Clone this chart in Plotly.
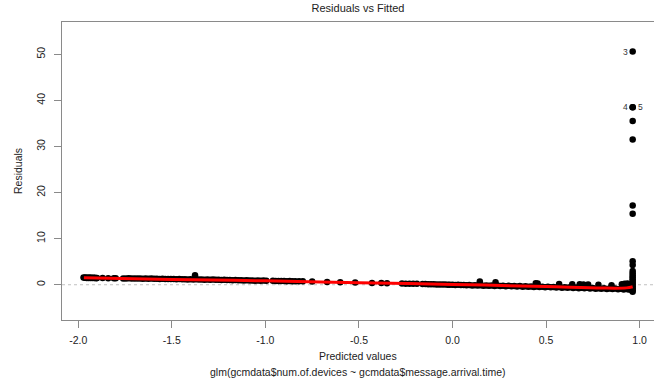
import plotly.graph_objects as go

# Main band of observations (fitted value, residual)
band_fitted = [
    -1.972, -1.965, -1.960, -1.955, -1.950, -1.945, -1.940, -1.935, -1.930, -1.925,
    -1.920, -1.915, -1.910, -1.905, -1.900, -1.870, -1.840, -1.810, -1.800,
    -1.760, -1.745, -1.730, -1.715, -1.700, -1.685, -1.670, -1.655, -1.640, -1.625,
    -1.610, -1.595, -1.580, -1.565, -1.550, -1.535, -1.520, -1.505, -1.490, -1.475,
    -1.460, -1.445, -1.430, -1.415, -1.400, -1.376, -1.385, -1.370, -1.355, -1.340,
    -1.325, -1.310, -1.295, -1.280, -1.265, -1.250, -1.235, -1.220, -1.205, -1.190,
    -1.175, -1.160, -1.145, -1.130, -1.115, -1.100, -1.085, -1.070, -1.055, -1.040,
    -1.025, -1.010, -0.995, -0.960, -0.945, -0.930, -0.915, -0.900, -0.885, -0.870,
    -0.855, -0.840, -0.820, -0.800, -0.750, -0.670, -0.600, -0.520, -0.430, -0.380,
    -0.350, -0.270, -0.250, -0.230, -0.210, -0.190, -0.160, -0.145, -0.130, -0.115,
    -0.100, -0.085, -0.070, -0.055, -0.040, -0.025, -0.015,
    0.000, 0.015, 0.030, 0.045, 0.060, 0.075, 0.090, 0.105, 0.120, 0.135,
    0.146, 0.150, 0.165, 0.180, 0.195, 0.210, 0.225, 0.230, 0.240, 0.255,
    0.270, 0.285, 0.300, 0.315, 0.330, 0.345, 0.360, 0.375, 0.390, 0.405,
    0.420, 0.435, 0.445, 0.455, 0.450, 0.465, 0.480, 0.495, 0.510, 0.525,
    0.540, 0.555, 0.570, 0.570, 0.585, 0.600, 0.615, 0.630, 0.640, 0.645,
    0.660, 0.675, 0.680, 0.690, 0.700, 0.705, 0.720, 0.725, 0.735, 0.750,
    0.765, 0.780, 0.780, 0.795, 0.810, 0.825, 0.840, 0.850, 0.855, 0.870,
    0.885, 0.900, 0.905, 0.915, 0.920, 0.930, 0.935, 0.940, 0.950, 0.955, 0.960,
]
band_resid = [
    1.55, 1.50, 1.58, 1.47, 1.52, 1.45, 1.55, 1.48, 1.50, 1.44,
    1.52, 1.46, 1.49, 1.43, 1.47, 1.45, 1.43, 1.40, 1.42,
    1.38, 1.36, 1.40, 1.35, 1.37, 1.33, 1.36, 1.31, 1.34, 1.30,
    1.33, 1.28, 1.31, 1.27, 1.29, 1.24, 1.27, 1.22, 1.25, 1.20,
    1.23, 1.18, 1.21, 1.16, 1.19, 2.05, 1.14, 1.17, 1.12, 1.15,
    1.10, 1.13, 1.08, 1.11, 1.06, 1.08, 1.03, 1.06, 1.01, 1.04,
    0.99, 1.01, 0.96, 0.99, 0.94, 0.97, 0.92, 0.94, 0.89, 0.92,
    0.87, 0.90, 0.85, 0.84, 0.81, 0.83, 0.79, 0.81, 0.77, 0.79,
    0.75, 0.77, 0.73, 0.74, 0.70, 0.62, 0.55, 0.48, 0.40, 0.36,
    0.34, 0.27, 0.24, 0.23, 0.20, 0.19, 0.16, 0.14, 0.13, 0.10,
    0.10, 0.07, 0.07, 0.04, 0.04, 0.01, 0.01,
    0.02, -0.05, 0.00, -0.08, -0.03, -0.12, -0.06, -0.15, -0.09, -0.18,
    0.70, -0.11, -0.20, -0.14, -0.23, -0.16, -0.26, 0.55, -0.19, -0.29,
    -0.21, -0.32, -0.24, -0.35, -0.27, -0.38, -0.30, -0.41, -0.33, -0.44,
    -0.36, -0.47, 0.32, 0.28, -0.39, -0.50, -0.42, -0.53, -0.45, -0.56,
    -0.48, -0.60, 0.18, -0.51, -0.63, -0.54, -0.66, -0.57, 0.10, -0.70,
    -0.60, -0.74, 0.08, -0.63, 0.05, -0.78, -0.66, 0.06, -0.82, -0.70,
    -0.85, -0.02, -0.74, -0.88, -0.77, -0.92, -0.80, -0.10, -0.95, -0.83,
    -0.98, -0.86, 0.10, -1.02, 0.20, -0.89, 0.25, -1.05, -0.92, -1.10, -0.60,
]

# Vertical stack of observations at the largest fitted value
stack_fitted = [0.963] * 21
stack_resid = [50.6, 38.5, 38.5, 35.5, 31.5, 17.2, 15.4, 5.1, 4.3, 3.0,
               2.5, 2.0, 1.6, 1.2, 0.8, 0.4, 0.0, -0.4, -0.8, -1.2, -1.5]

# Labelled observations
label_ids = ["3", "4", "5"]
label_fitted = [0.963, 0.963, 0.963]
label_resid = [50.6, 38.5, 38.5]
label_side = ["left", "left", "right"]

# Smoother (red line)
smooth_x = [-1.97, -1.5, -1.0, -0.5, 0.0, 0.5, 0.8, 0.93, 0.963]
smooth_y = [1.50, 1.15, 0.85, 0.45, 0.07, -0.40, -0.72, -0.68, -0.45]

x_ticks = [-2.0, -1.5, -1.0, -0.5, 0.0, 0.5, 1.0]
x_tick_text = ["-2.0", "-1.5", "-1.0", "-0.5", "0.0", "0.5", "1.0"]
y_ticks = [0, 10, 20, 30, 40, 50]

FONT = "Liberation Sans, Arial, Helvetica, sans-serif"

fig = go.Figure()

# zero reference line
fig.add_trace(go.Scatter(
    x=[-2.087, 1.077], y=[0, 0], mode="lines",
    line=dict(color="#c0c0c0", width=1, dash="dot"),
    hoverinfo="skip", showlegend=False))

fig.add_trace(go.Scatter(
    x=band_fitted + stack_fitted, y=band_resid + stack_resid, mode="markers",
    marker=dict(color="black", size=6.5, line=dict(width=0)),
    showlegend=False))

fig.add_trace(go.Scatter(
    x=smooth_x, y=smooth_y, mode="lines",
    line=dict(color="#ff0000", width=3, shape="spline"),
    showlegend=False))

for lid, lx, ly, side in zip(label_ids, label_fitted, label_resid, label_side):
    fig.add_annotation(
        x=lx, y=ly, text=lid, showarrow=False,
        xanchor="right" if side == "left" else "left",
        xshift=-3 if side == "left" else 3,
        font=dict(family=FONT, size=8.5, color="#333"))

axis_common = dict(
    showline=True, linecolor="#8a8a8a", linewidth=1, mirror=True,
    ticks="outside", ticklen=7, tickcolor="#8a8a8a", tickwidth=1,
    showgrid=False, zeroline=False, automargin=False,
    tickfont=dict(family=FONT, size=10.5, color="#222"),
)

fig.update_layout(
    width=654, height=386,
    margin=dict(l=62, r=0, t=22, b=66, autoexpand=False),
    paper_bgcolor="white", plot_bgcolor="white",
    title=dict(text="Residuals vs Fitted", x=0.5, xref="paper",
               y=1 - 8 / 386, yref="container", yanchor="middle",
               font=dict(family=FONT, size=11, color="#222")),
    xaxis=dict(range=[-2.087, 1.077], tickvals=x_ticks, ticktext=x_tick_text,
               ticklabelstandoff=3, **axis_common),
    yaxis=dict(range=[-7.65, 57.0], tickvals=y_ticks, tickangle=-90,
               ticklabelstandoff=5, **axis_common),
    showlegend=False,
)

fig.add_annotation(text="Predicted values", xref="paper", yref="paper",
                   x=0.5, y=(320 - 356) / 298, yanchor="middle", showarrow=False,
                   font=dict(family=FONT, size=10.5, color="#222"))
fig.add_annotation(text="glm(gcmdata$num.of.devices ~ gcmdata$message.arrival.time)",
                   xref="paper", yref="paper",
                   x=0.5, y=(320 - 372) / 298, yanchor="middle", showarrow=False,
                   font=dict(family=FONT, size=10.5, color="#222"))
fig.add_annotation(text="Residuals", xref="paper", yref="paper",
                   x=(18 - 62) / 592, y=0.5, xanchor="center", yanchor="middle",
                   textangle=-90, showarrow=False,
                   font=dict(family=FONT, size=10.5, color="#222"))

fig.write_html(
    "out.html",
    config={"displayModeBar": False},
    post_script="document.body.style.margin='0';document.body.style.padding='0';document.body.style.overflow='hidden';",
)
